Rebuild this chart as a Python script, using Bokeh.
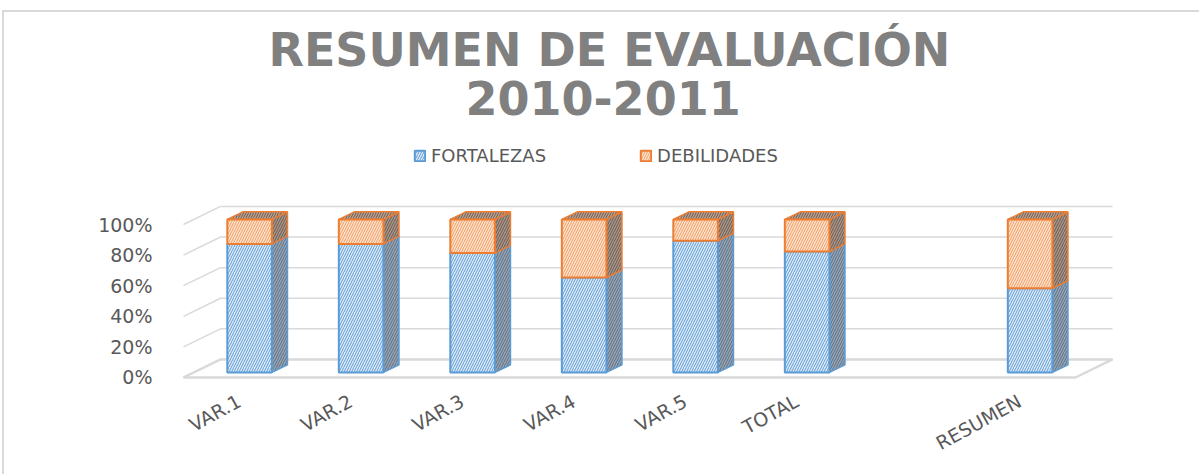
from bokeh.plotting import figure
from bokeh.models import Range1d, FixedTicker, NumeralTickFormatter, Legend, LegendItem, Title
from bokeh.embed import file_html
from bokeh.resources import INLINE

# ---------------- data ----------------
categories = ["VAR.1", "VAR.2", "VAR.3", "VAR.4", "VAR.5", "TOTAL", "", "RESUMEN"]
fortalezas = [0.84, 0.84, 0.78, 0.62, 0.86, 0.79, None, 0.55]
debilidades = [0.16, 0.16, 0.22, 0.38, 0.14, 0.21, None, 0.45]
y_ticks = [0.0, 0.2, 0.4, 0.6, 0.8, 1.0]
series_names = ["FORTALEZAS", "DEBILIDADES"]
title_lines = ["RESUMEN DE EVALUACIÓN", "2010-2011"]

# ---------------- 3D geometry (styling) ----------------
N = len(categories)
DX = 0.332   # full depth, category units
DY = 0.118   # full depth, value units
D1, D2 = 0.28, 0.70
BW = 0.40
GRID = "#d9d9d9"
TXT = "#595959"
FONT = "DejaVu Sans"

p = figure(width=1197, height=464, output_backend="svg", toolbar_location=None,
           x_range=Range1d(-0.20628, 8.49327), y_range=Range1d(-0.05229, 1.56863),
           min_border_left=156, min_border_right=71, min_border_top=125, min_border_bottom=91,
           outline_line_color=None, background_fill_color="white", border_fill_color="white")
p.styles = {"margin-left": "2px", "margin-top": "10px",
            "border-left": "2px solid #d9d9d9", "border-top": "2px solid #d9d9d9"}
p.xgrid.visible = False
p.ygrid.visible = False
p.title.visible = False

# axes
ya = p.yaxis[0]
ya.ticker = FixedTicker(ticks=y_ticks)
ya.formatter = NumeralTickFormatter(format="0%")
ya.axis_line_color = None
ya.major_tick_line_color = None
ya.minor_tick_line_color = None
ya.major_label_standoff = 2
ya.major_label_text_font = FONT
ya.major_label_text_font_size = "19px"
ya.major_label_text_color = TXT

xa = p.xaxis[0]
xt = [i + 0.5 for i, c in enumerate(categories) if c]
xa.ticker = FixedTicker(ticks=xt)
xa.major_label_overrides = {i + 0.5: c for i, c in enumerate(categories) if c}
xa.axis_line_color = None
xa.major_tick_line_color = None
xa.minor_tick_line_color = None
xa.major_label_orientation = 0.5
xa.major_label_standoff = 8
xa.major_label_text_font = FONT
xa.major_label_text_font_size = "19px"
xa.major_label_text_color = TXT

# walls: left-side lines and back-wall gridlines
side_xs = [[0, DX] for v in y_ticks]
side_ys = [[v, v + DY] for v in y_ticks]
back_xs = [[DX, N + DX] for v in y_ticks]
back_ys = [[v + DY, v + DY] for v in y_ticks]
p.multi_line(side_xs + back_xs, side_ys + back_ys, line_color=GRID, line_width=1.5)

# floor
p.patch([0, N, N + DX, DX], [0, 0, DY, DY], fill_color="white", line_color=GRID, line_width=2.5)

styles = {
    "FORTALEZAS": dict(front=("#deebf7", "#5b9bd5"), side=("#97a6b6", "#5c6e82"),
                       top=("#a9bccd", "#5c6e82"), line="#5b9bd5"),
    "DEBILIDADES": dict(front=("#fde4d2", "#f19a5c"), side=("#a8968a", "#6e5a4e"),
                        top=("#b9a393", "#6e5a4e"), line="#ed7d31"),
}

front_renderers = []
s1 = D1 * DY
s2 = D2 * DY
dd = (D2 - D1) * DX
for sname, vals, bases in [("FORTALEZAS", fortalezas, [0.0] * N),
                           ("DEBILIDADES", debilidades, fortalezas)]:
    st = styles[sname]
    fx, fy, sx, sy, tx, ty = [], [], [], [], [], []
    for i, v in enumerate(vals):
        if v is None:
            continue
        b = bases[i]
        t = b + v
        x0 = i + 0.5 - BW / 2 + D1 * DX
        x1 = x0 + BW
        fx.append([x0, x1, x1, x0]); fy.append([b + s1, b + s1, t + s1, t + s1])
        sx.append([x1, x1 + dd, x1 + dd, x1]); sy.append([b + s1, b + s2, t + s2, t + s1])
        tx.append([x0, x1, x1 + dd, x0 + dd]); ty.append([t + s1, t + s1, t + s2, t + s2])
    p.patches(sx, sy, fill_color=st["side"][0], hatch_pattern="/", hatch_color=st["side"][1],
              hatch_scale=5, hatch_weight=1, line_color=st["line"], line_width=1.5)
    p.patches(tx, ty, fill_color=st["top"][0], hatch_pattern="/", hatch_color=st["top"][1],
              hatch_scale=5, hatch_weight=1, line_color=st["line"], line_width=1.5)
    r = p.patches(fx, fy, fill_color=st["front"][0], hatch_pattern="/", hatch_color=st["front"][1],
                  hatch_scale=5, hatch_weight=1, line_color=st["line"], line_width=2)
    front_renderers.append((sname, r))

legend = Legend(items=[LegendItem(label=n, renderers=[r]) for n, r in front_renderers],
                orientation="horizontal", location=(253, 219), padding=0, spacing=93,
                border_line_color=None, background_fill_alpha=0,
                glyph_width=13, glyph_height=13, label_standoff=5,
                label_text_font=FONT, label_text_font_size="18px", label_text_color=TXT)
p.add_layout(legend)

tkw = dict(align="left", text_font=FONT, text_font_style="bold", text_font_size="46px",
           text_color="#808080")
p.add_layout(Title(text=title_lines[1], offset=305, standoff=46, **tkw), "above")
p.add_layout(Title(text=title_lines[0], offset=108, standoff=-42, **tkw), "above")

open("out.html", "w").write(file_html(p, INLINE))
